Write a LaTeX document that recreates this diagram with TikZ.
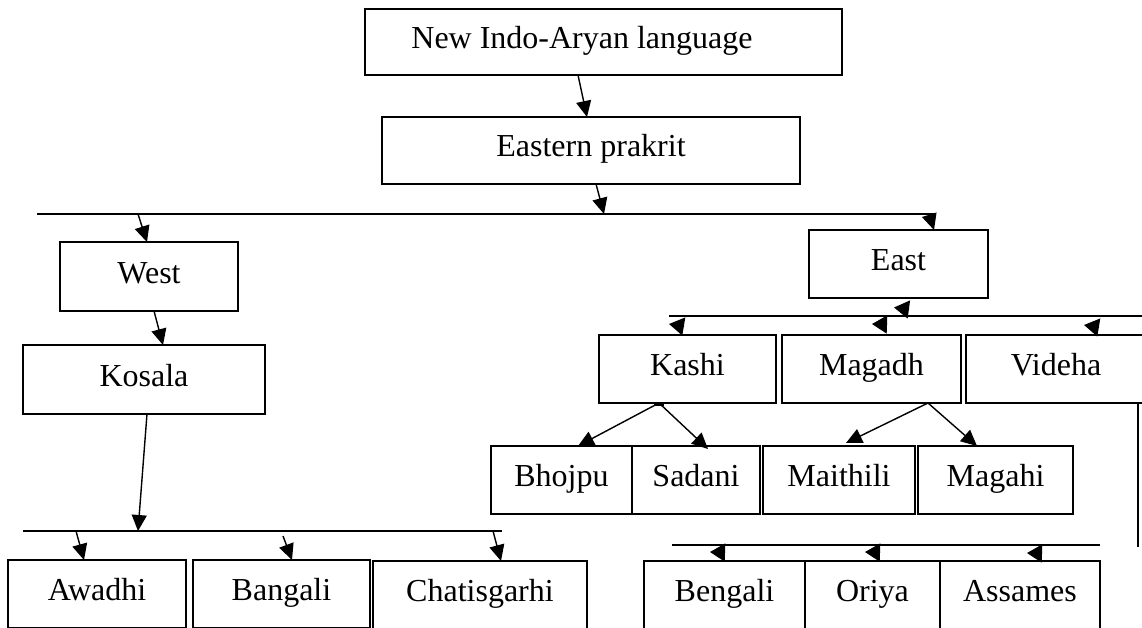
\documentclass[tikz,border=0pt]{standalone}
\usepackage{fontspec}
\setmainfont{Liberation Serif}
\usetikzlibrary{arrows.meta,calc}

\tikzset{
  box/.style={draw, line width=1.5pt, inner sep=0pt, outer sep=0pt,
    text height=22pt, text depth=9pt,
    font=\fontsize{32}{36}\selectfont},
  arr/.style={line width=1.4pt, -{Triangle[length=16pt,width=15pt]}},
  head/.style={line width=1.4pt, -{Triangle[length=15pt,width=18pt]}},
  rule/.style={line width=1.5pt}
}

\begin{document}
\begin{tikzpicture}[x=1pt, y=-1pt]
\useasboundingbox (0,0) rectangle (1142,628);
\clip (0,0) rectangle (1142,628);

% boxes
\node[box, minimum width=477pt, minimum height=66pt] (top) at (603.5,42) {\hspace*{-43pt}New Indo-Aryan language};
\node[box, minimum width=418pt, minimum height=67pt] (ep) at (591,150.5) {Eastern prakrit};
\node[box, minimum width=178pt, minimum height=69pt] (west) at (149,276.5) {West};
\node[box, minimum width=179pt, minimum height=68pt] (east) at (898.5,264) {East};
\node[box, minimum width=242pt, minimum height=69pt] (kosala) at (144,379.5) {Kosala};
\node[box, minimum width=177pt, minimum height=68pt] (kashi) at (687.5,369) {Kashi};
\node[box, minimum width=179pt, minimum height=68pt] (magadh) at (871.5,369) {Magadh};
\node[box, minimum width=180pt, minimum height=68pt] (videha) at (1056,369) {Videha};
\node[box, minimum width=141pt, minimum height=68pt] (bhojpu) at (561.5,480) {Bhojpu};
\node[box, minimum width=128pt, minimum height=68pt] (sadani) at (696,480) {Sadani};
\node[box, minimum width=152pt, minimum height=68pt] (maithili) at (839,480) {Maithili};
\node[box, minimum width=155pt, minimum height=68pt] (magahi) at (995.5,480) {Magahi};
\node[box, minimum width=178pt, minimum height=68pt] (awadhi) at (97,594) {Awadhi};
\node[box, minimum width=177pt, minimum height=68pt] (bangali) at (281.5,594) {Bangali};
\node[box, minimum width=214pt, minimum height=68pt] (chatis) at (480,595) {Chatisgarhi};
\node[box, minimum width=161pt, minimum height=68pt] (bengali) at (724.5,595) {Bengali};
\node[box, minimum width=135pt, minimum height=68pt] (oriya) at (872.5,595) {Oriya};
\node[box, minimum width=160pt, minimum height=68pt] (assames) at (1020,595) {Assames};

% distribution rules
\coordinate (l1w) at (37,214);   \coordinate (l1e) at (935,214);
\coordinate (l2w) at (23,531);   \coordinate (l2e) at (502,531);
\coordinate (l3w) at (669,316);  \coordinate (l3e) at (1142,316);
\coordinate (l5w) at (672,545);  \coordinate (l5e) at (1100,545);
\coordinate (vend) at (1138,547);
\draw[rule] (l1w) -- (l1e);
\draw[rule] (l2w) -- (l2e);
\draw[rule] (l3w) -- (l3e);
\draw[rule] (l5w) -- (l5e);
\draw[rule] (videha.south -| vend) -- (vend);

% main chain
\draw[arr] (top.south -| 578,0) -- (ep.north -| 587,0);
\draw[arr] (ep.south -| 596,0) -- (l1w -| 604,0);
\draw[arr] (l1w -| 138,0) -- (west.north -| 147,0);
\draw[arr] (l1w -| 929,0) -- (east.north -| 934,0);
\draw[arr] (west.south -| 154,0) -- (kosala.north -| 163,0);
\draw[arr] (kosala.south -| 147,0) -- (l2w -| 138,0);

% western group
\coordinate (bgtail) at (283,536);
\draw[arr] (l2w -| 76,0) -- (awadhi.north -| 84,0);
\draw[arr] (bgtail) -- (bangali.north -| 292,0);
\draw[arr] (l2w -| 493,0) -- (chatis.north -| 501,0);

% Kashi and Magadh branches
\draw[arr] (kashi.south -| 659,0) -- (bhojpu.north -| 578,0);
\draw[arr] (kashi.south -| 659,0) -- ($(sadani.north -| 708,0)+(0,3)$);
\draw[arr] (magadh.south -| 928,0) -- ($(maithili.north -| 846,0)+(0,-3)$);
\draw[arr] (magadh.south -| 928,0) -- (magahi.north -| 977,0);
\draw[line width=1.2pt] ($(kashi.south -| 659,0)+(-5,2)$) -- ($(kashi.south -| 659,0)+(5,2)$);

% short heads on the eastern rules
\coordinate (he1) at (909,309.5);  \coordinate (te1) at (894,307.5);
\coordinate (hk) at (684,326.5);   \coordinate (tk) at (669,324);
\coordinate (hm) at (887,324.5);   \coordinate (tm) at (872,324);
\coordinate (hv) at (1099,327.5);  \coordinate (tv) at (1084,325);
\coordinate (hb) at (725,552.5);   \coordinate (tb) at (710,552);
\coordinate (ho) at (880,552.5);   \coordinate (to) at (865,552);
\coordinate (ha) at (1042,553.5);  \coordinate (ta) at (1027,553);
\draw[head] (he1) -- (te1);
\draw[head] (hk) -- (tk);
\draw[head] (hm) -- (tm);
\draw[head] (hv) -- (tv);
\draw[head] (hb) -- (tb);
\draw[head] (ho) -- (to);
\draw[head] (ha) -- (ta);
\end{tikzpicture}
\end{document}
